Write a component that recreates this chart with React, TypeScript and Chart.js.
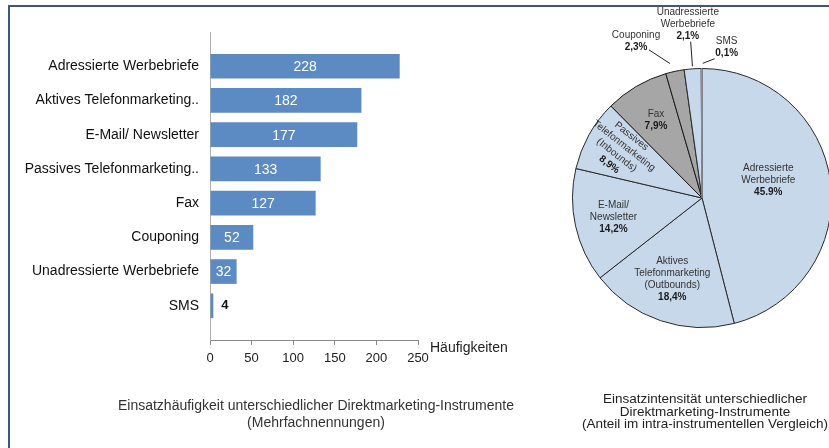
import React, { useEffect, useRef } from 'react';
import { Chart, registerables } from 'chart.js';

Chart.register(...registerables);

// ---------- data ----------
const barCategories = [
  'Adressierte Werbebriefe',
  'Aktives Telefonmarketing..',
  'E-Mail/ Newsletter',
  'Passives Telefonmarketing..',
  'Fax',
  'Couponing',
  'Unadressierte Werbebriefe',
  'SMS',
];
const barValues = [228, 182, 177, 133, 127, 52, 32, 4];
const xTicks = [0, 50, 100, 150, 200, 250];
const xAxisTitle = 'Häufigkeiten';
const barTitle = ['Einsatzhäufigkeit unterschiedlicher Direktmarketing-Instrumente', '(Mehrfachnennungen)'];

const pieNames = [
  ['Adressierte', 'Werbebriefe'],
  ['Aktives', 'Telefonmarketing', '(Outbounds)'],
  ['E-Mail/', 'Newsletter'],
  ['Passives', 'Telefonmarketing', '(Inbounds)'],
  ['Fax'],
  ['Couponing'],
  ['Unadressierte', 'Werbebriefe'],
  ['SMS'],
];
const pieValues = [45.9, 18.4, 14.2, 8.9, 7.9, 2.3, 2.1, 0.1];
const pieValueText = ['45.9%', '18,4%', '14,2%', '8,9%', '7,9%', '2,3%', '2,1%', '0,1%'];
const pieTitle = [
  'Einsatzintensität unterschiedlicher',
  'Direktmarketing-Instrumente',
  '(Anteil im intra-instrumentellen Vergleich)',
];

// ---------- styles / layout ----------
const FONT = "'Liberation Sans', Arial, Helvetica, sans-serif";
const BAR_COLOR = '#5b8bc2';
const LIGHT = '#c7d8eb';
const GRAY = '#a6a6a6';
const pieColors = [LIGHT, LIGHT, LIGHT, LIGHT, GRAY, GRAY, LIGHT, LIGHT];
const pieBorders = ['#2a2a2a', '#2a2a2a', '#2a2a2a', '#2a2a2a', '#1a1a1a', '#1a1a1a', '#2a2a2a', '#8a8a8a'];

// label placement relative to each slice (angle offset in degrees, radius as fraction of outer radius)
type LabelLayout = { dA: number; r: number; rot?: number; leader?: [number, number][] };
const pieLabelLayout: LabelLayout[] = [
  { dA: -7.8, r: 0.53 },
  { dA: 1.3, r: 0.67 },
  { dA: 0, r: 0.7 },
  { dA: 1, r: 0.73, rot: 38 },
  { dA: 0, r: 0.7 },
  { dA: -10.8, r: 1.31, leader: [[-1.3, 1.067], [-7.6, 1.215]] },
  { dA: -0.5, r: 1.35, leader: [[0, 1.02], [0, 1.21]] },
  { dA: 9.5, r: 1.177, leader: [[0.5, 1.04], [5.4, 1.08]] },
];

const barLabelPlugin = {
  id: 'barLabels',
  afterDatasetsDraw(chart: any) {
    const ctx = chart.ctx;
    const meta = chart.getDatasetMeta(0);
    ctx.save();
    ctx.textBaseline = 'middle';
    meta.data.forEach((bar: any, i: number) => {
      const v = barValues[i];
      const { x, y, base } = bar.getProps(['x', 'y', 'base'], true);
      if (v >= 20) {
        ctx.fillStyle = '#ffffff';
        ctx.font = `14px ${FONT}`;
        ctx.textAlign = 'center';
        ctx.fillText(String(v), (x + base) / 2, y + 1);
      } else {
        ctx.fillStyle = '#111111';
        ctx.font = `bold 13px ${FONT}`;
        ctx.textAlign = 'left';
        ctx.fillText(String(v), x + 8, y);
      }
    });
    // axis title to the right of the value axis
    const xs = chart.scales.x;
    ctx.fillStyle = '#222222';
    ctx.font = `14px ${FONT}`;
    ctx.textAlign = 'left';
    ctx.fillText(xAxisTitle, xs.right + 12, xs.top + 8);
    ctx.restore();
  },
};

const pieLabelPlugin = {
  id: 'pieLabels',
  afterDatasetsDraw(chart: any) {
    const ctx = chart.ctx;
    const meta = chart.getDatasetMeta(0);
    ctx.save();
    ctx.textBaseline = 'middle';
    ctx.textAlign = 'center';
    meta.data.forEach((arc: any, i: number) => {
      const { x, y, startAngle, endAngle, outerRadius } = arc.getProps(
        ['x', 'y', 'startAngle', 'endAngle', 'outerRadius'],
        true
      );
      const mid = (startAngle + endAngle) / 2;
      const L = pieLabelLayout[i];
      const deg = Math.PI / 180;
      if (L.leader) {
        const [p0, p1] = L.leader;
        const a0 = mid + p0[0] * deg;
        const a1 = mid + p1[0] * deg;
        ctx.strokeStyle = '#222222';
        ctx.lineWidth = 1;
        ctx.beginPath();
        ctx.moveTo(x + Math.cos(a0) * p0[1] * outerRadius, y + Math.sin(a0) * p0[1] * outerRadius);
        ctx.lineTo(x + Math.cos(a1) * p1[1] * outerRadius, y + Math.sin(a1) * p1[1] * outerRadius);
        ctx.stroke();
      }
      const a = mid + L.dA * deg;
      const px = x + Math.cos(a) * L.r * outerRadius;
      const py = y + Math.sin(a) * L.r * outerRadius;
      const lines = [...pieNames[i], pieValueText[i]];
      const lh = 12;
      ctx.save();
      ctx.translate(px, py);
      if (L.rot) ctx.rotate(L.rot * deg);
      lines.forEach((t, k) => {
        const isPct = k === lines.length - 1;
        ctx.font = `${isPct ? 'bold ' : ''}10px ${FONT}`;
        ctx.fillStyle = isPct ? '#1a1a1a' : '#333333';
        ctx.fillText(t, 0, (k - (lines.length - 1) / 2) * lh);
      });
      ctx.restore();
    });
    ctx.restore();
  },
};

export default function App() {
  const barRef = useRef<HTMLCanvasElement>(null);
  const pieRef = useRef<HTMLCanvasElement>(null);

  useEffect(() => {
    const bar = new Chart(barRef.current as HTMLCanvasElement, {
      type: 'bar',
      data: {
        datasets: [
          {
            data: barValues.map((v, i) => ({ x: v, y: i })),
            backgroundColor: BAR_COLOR,
            borderWidth: 0,
            barPercentage: 0.9,
            categoryPercentage: 0.8,
          },
        ],
      },
      options: {
        indexAxis: 'y',
        animation: false,
        responsive: false,
        devicePixelRatio: 1,
        layout: { padding: { left: 10, top: 32, right: 142, bottom: 78 } },
        plugins: { legend: { display: false }, tooltip: { enabled: false } },
        scales: {
          x: {
            type: 'linear',
            min: 0,
            max: 250,
            afterBuildTicks: (s: any) => {
              s.ticks = xTicks.map((v) => ({ value: v }));
            },
            afterFit: (s: any) => {
              s.height = 30;
            },
            grid: { drawOnChartArea: false, tickLength: 5, color: '#888888' },
            border: { color: '#888888' },
            ticks: { padding: 6, color: '#222222', font: { family: FONT, size: 13 } },
          },
          y: {
            type: 'linear',
            min: -1,
            max: 8,
            offset: false,
            reverse: true,
            afterBuildTicks: (s: any) => {
              s.ticks = barCategories.map((_, i) => ({ value: i }));
            },
            afterFit: (s: any) => {
              s.width = 200;
            },
            grid: { display: false, drawTicks: false, offset: false },
            border: { color: '#b0b0b0' },
            ticks: {
              autoSkip: false,
              padding: 11,
              color: '#111111',
              font: { family: FONT, size: 14 },
              callback: (v: any) => barCategories[v] ?? '',
            },
          },
        },
      } as any,
      plugins: [barLabelPlugin],
    });

    const pie = new Chart(pieRef.current as HTMLCanvasElement, {
      type: 'pie',
      data: {
        labels: pieNames.map((l) => l.join(' ')),
        datasets: [
          {
            data: pieValues,
            backgroundColor: pieColors,
            borderColor: pieBorders,
            borderWidth: 1,
          },
        ],
      },
      options: {
        animation: false,
        responsive: false,
        devicePixelRatio: 1,
        layout: { padding: { left: 12, right: 12, top: 68, bottom: 120 } },
        plugins: { legend: { display: false }, tooltip: { enabled: false } },
      } as any,
      plugins: [pieLabelPlugin],
    });

    return () => {
      bar.destroy();
      pie.destroy();
    };
  }, []);

  return (
    <div
      style={{
        position: 'fixed',
        left: 0,
        top: 0,
        width: 829,
        height: 448,
        overflow: 'hidden',
        background: '#ffffff',
        fontFamily: FONT,
      }}
    >
      <div style={{ position: 'absolute', left: 8, top: 5, width: 821, height: 2, background: '#3f5877' }} />
      <div style={{ position: 'absolute', left: 8, top: 5, width: 2, height: 443, background: '#3f5877' }} />
      <canvas ref={barRef} width={560} height={448} style={{ position: 'absolute', left: 0, top: 0 }} />
      <canvas ref={pieRef} width={284} height={448} style={{ position: 'absolute', left: 560, top: 0 }} />
      <div
        style={{
          position: 'absolute',
          left: 66,
          width: 500,
          top: 397,
          textAlign: 'center',
          fontSize: 14,
          lineHeight: '17px',
          color: '#333333',
          whiteSpace: 'nowrap',
        }}
      >
        {barTitle.map((t, i) => (
          <div key={i}>{t}</div>
        ))}
      </div>
      <div
        style={{
          position: 'absolute',
          left: 555,
          width: 300,
          top: 393,
          textAlign: 'center',
          fontSize: 13.5,
          lineHeight: '12.5px',
          color: '#222222',
          whiteSpace: 'nowrap',
        }}
      >
        {pieTitle.map((t, i) => (
          <div key={i}>{t}</div>
        ))}
      </div>
    </div>
  );
}
